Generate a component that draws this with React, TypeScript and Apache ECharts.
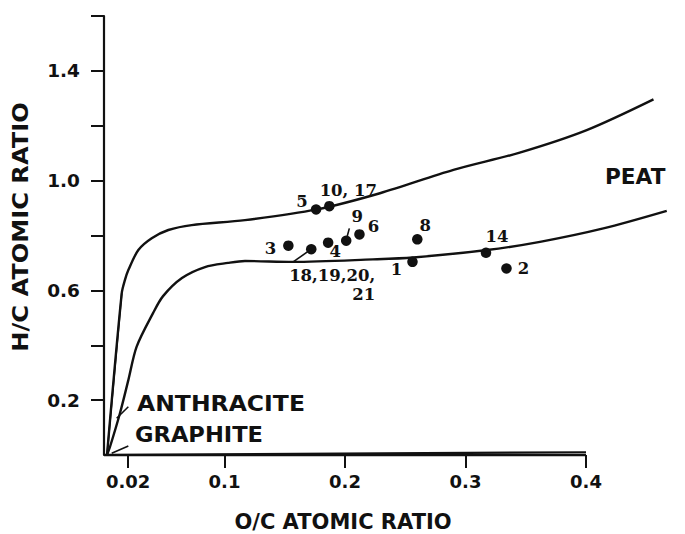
import React, { useEffect, useRef } from "react";
import * as echarts from "echarts";

// ---- data ----
const xTickValues = [0.02, 0.1, 0.2, 0.3, 0.4];
const yTickValues = [0.2, 0.4, 0.6, 0.8, 1.0, 1.2, 1.4, 1.6];
const yLabelValues = [0.2, 0.6, 1.0, 1.4];

const sampleIds = ["1", "2", "3", "4", "5", "6", "8", "9", "10, 17", "14", "18,19,20,\n21"];
const sampleOC = [0.256, 0.334, 0.153, 0.186, 0.176, 0.212, 0.26, 0.201, 0.187, 0.317, 0.172];
const sampleHC = [0.704, 0.68, 0.763, 0.774, 0.895, 0.804, 0.786, 0.781, 0.907, 0.737, 0.75];

const upperOC = [0.0025, 0.0147, 0.0174, 0.0202, 0.0285, 0.0396, 0.0534, 0.0728, 0.117, 0.1765, 0.229, 0.29, 0.345, 0.4006, 0.456];
const upperHC = [0, 0.589, 0.638, 0.674, 0.747, 0.79, 0.82, 0.838, 0.856, 0.895, 0.954, 1.039, 1.102, 1.184, 1.296];

const lowerOC = [0.0025, 0.005, 0.0133, 0.0202, 0.0271, 0.0407, 0.049, 0.0647, 0.0838, 0.1029, 0.117, 0.1568, 0.2232, 0.2564, 0.3178, 0.3618, 0.4144, 0.467];
const lowerHC = [0, 0.03, 0.153, 0.273, 0.395, 0.517, 0.579, 0.645, 0.685, 0.7, 0.707, 0.704, 0.713, 0.72, 0.747, 0.777, 0.826, 0.89];

const innerOC = [0.0025, 0.0147];
const innerHC = [0, 0.589];

const graphiteOC = [0, 0.4];
const graphiteHC = [0, 0.01];

const baselineOC = [0, 0.4];
const baselineHC = [0, 0];

// leader strokes (data coordinates)
const leaderSegments = [
  [[0.157, 0.704], [0.172, 0.75]],
  [[0.2036, 0.826], [0.2019, 0.798]],
  [[0.0105, 0.134], [0.0202, 0.176]],
  [[0.0064, 0.006], [0.0202, 0.033]],
];

// label placement (style, not data)
const labelPlacement: Record<string, { offset: [number, number]; align?: string }> = {
  "1": { offset: [-16, 8] },
  "2": { offset: [17, 0] },
  "3": { offset: [-18, 3] },
  "4": { offset: [7, 9] },
  "5": { offset: [-14, -8] },
  "6": { offset: [14, -8] },
  "8": { offset: [8, -14] },
  "9": { offset: [11, -24] },
  "10, 17": { offset: [19, -16] },
  "14": { offset: [11, -16] },
  "18,19,20,\n21": { offset: [64, 36], align: "right" },
};

const INK = "#111111";
const SANS = "DejaVu Sans";
const SERIF = "DejaVu Serif";

const zip = (a: number[], b: number[]) => a.map((v, i) => [v, b[i]]);

export default function App() {
  const ref = useRef<HTMLDivElement>(null);

  useEffect(() => {
    if (!ref.current) return;
    const chart = echarts.init(ref.current, undefined, { renderer: "svg" });

    const curveStyle = { color: INK, width: 2.4 };

    const leaderSeries = leaderSegments.map((seg) => ({
      type: "line",
      data: seg,
      symbol: "none",
      clip: false,
      lineStyle: { color: INK, width: 1.6 },
      silent: true,
    }));

    chart.setOption({
      animation: false,
      backgroundColor: "#ffffff",
      grid: { left: 104, right: 14.65, top: 16, bottom: 79 },
      xAxis: {
        type: "value",
        min: 0,
        max: 0.47,
        axisLine: { show: false },
        axisTick: {
          show: true,
          customValues: xTickValues,
          length: 13,
          lineStyle: { color: INK, width: 2 },
        },
        axisLabel: {
          customValues: xTickValues,
          formatter: (v: number) => String(v),
          color: INK,
          fontFamily: SANS,
          fontWeight: "bold",
          fontSize: 18,
          margin: 17,
        },
        splitLine: { show: false },
      },
      yAxis: {
        type: "value",
        min: 0,
        max: 1.6,
        axisLine: { show: true, lineStyle: { color: INK, width: 2.2 } },
        axisTick: {
          show: true,
          customValues: yTickValues,
          length: 13,
          lineStyle: { color: INK, width: 2 },
        },
        axisLabel: {
          customValues: yLabelValues,
          formatter: (v: number) => v.toFixed(1),
          color: INK,
          fontFamily: SANS,
          fontWeight: "bold",
          fontSize: 18.5,
          margin: 24,
        },
        splitLine: { show: false },
      },
      graphic: [
        {
          type: "text",
          x: 343,
          y: 522,
          style: {
            text: "O/C ATOMIC RATIO",
            fill: INK,
            font: `bold 21px "${SANS}"`,
            align: "center",
            verticalAlign: "middle",
          },
        },
        {
          type: "text",
          x: 21,
          y: 227,
          rotation: Math.PI / 2,
          scaleX: 1.15,
          style: {
            text: "H/C ATOMIC RATIO",
            fill: INK,
            font: `bold 21px "${SANS}"`,
            align: "center",
            verticalAlign: "middle",
          },
        },
        {
          type: "text",
          x: 137,
          y: 403,
          scaleX: 1.12,
          style: {
            text: "ANTHRACITE",
            fill: INK,
            font: `bold 21px "${SANS}"`,
            align: "left",
            verticalAlign: "middle",
          },
        },
        {
          type: "text",
          x: 135,
          y: 435,
          scaleX: 1.075,
          style: {
            text: "GRAPHITE",
            fill: INK,
            font: `bold 21px "${SANS}"`,
            align: "left",
            verticalAlign: "middle",
          },
        },
        {
          type: "text",
          x: 605,
          y: 177,
          scaleX: 1.03,
          style: {
            text: "PEAT",
            fill: INK,
            font: `bold 21px "${SANS}"`,
            align: "left",
            verticalAlign: "middle",
          },
        },
      ],
      series: [
        {
          type: "line",
          data: zip(baselineOC, baselineHC),
          symbol: "none",
          clip: false,
          lineStyle: { color: INK, width: 2.6 },
          silent: true,
        },
        {
          type: "line",
          data: zip(upperOC, upperHC),
          symbol: "none",
          smooth: 0.3,
          clip: false,
          lineStyle: curveStyle,
          silent: true,
        },
        {
          type: "line",
          data: zip(lowerOC, lowerHC),
          symbol: "none",
          smooth: 0.3,
          clip: false,
          lineStyle: curveStyle,
          silent: true,
        },
        {
          type: "line",
          data: zip(innerOC, innerHC),
          symbol: "none",
          clip: false,
          lineStyle: { color: INK, width: 1.6 },
          silent: true,
        },
        {
          type: "line",
          data: zip(graphiteOC, graphiteHC),
          symbol: "none",
          clip: false,
          lineStyle: { color: INK, width: 2.2 },
          silent: true,
        },
        ...leaderSeries,
        {
          type: "scatter",
          symbol: "circle",
          symbolSize: 10.5,
          itemStyle: { color: INK, opacity: 1 },
          clip: false,
          data: sampleIds.map((id, i) => {
            const p = labelPlacement[id];
            return {
              value: [sampleOC[i], sampleHC[i]],
              label: {
                show: true,
                formatter: id,
                position: "inside",
                offset: p.offset,
                align: p.align || "center",
                verticalAlign: "middle",
                color: INK,
                opacity: 1,
                fontFamily: SERIF,
                fontWeight: "bold",
                fontSize: 16.5,
                lineHeight: 19,
              },
            };
          }),
        },
      ],
    });

    return () => chart.dispose();
  }, []);

  return (
    <div
      ref={ref}
      style={{ position: "fixed", left: 0, top: 0, width: 685, height: 534, background: "#fff" }}
    />
  );
}
